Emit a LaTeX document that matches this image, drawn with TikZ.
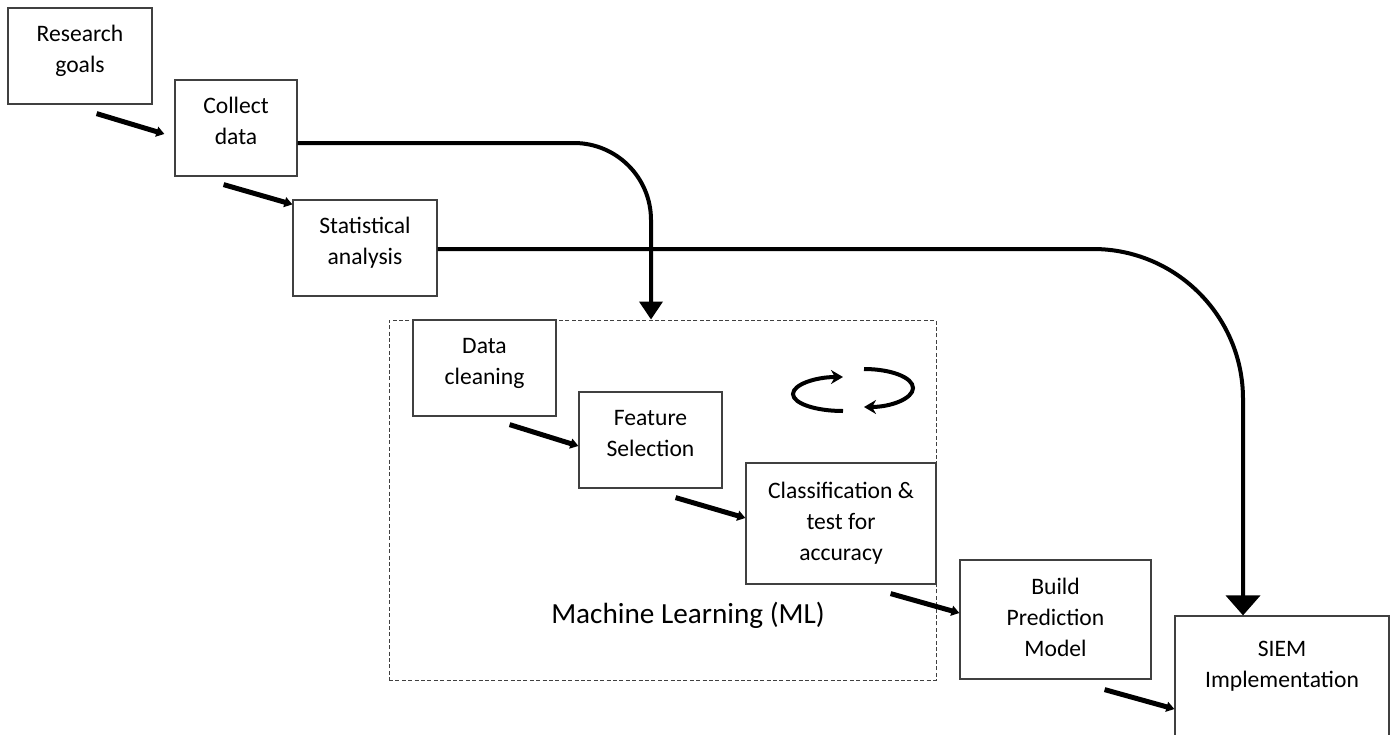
\documentclass[tikz,border=0pt]{standalone}
\usepackage{fontspec}
\setmainfont{Carlito}
\usetikzlibrary{arrows.meta,calc}
\newcommand{\boxfont}{\fontsize{11.8}{15.5}\selectfont}
\newcommand{\mlfont}{\fontsize{14.6}{17.5}\selectfont}
\definecolor{edge}{HTML}{404040}
\tikzset{
  box/.style={draw=edge, line width=0.6pt, align=center, inner sep=0pt, font=\boxfont, text depth=7pt},
  tallbox/.style={box, text depth=2pt},
  mlbox/.style={draw=edge, line width=0.5pt, dash pattern=on 2pt off 1.2pt},
  stage/.style={line width=2.5pt, -{Triangle[length=4pt,width=5pt]}},
  flow/.style={line width=2pt, -{Triangle[length=9pt,width=11.5pt]}},
  bigflow/.style={line width=2pt, -{Triangle[length=10pt,width=17pt]}},
  cyc/.style={line width=2pt, -{Stealth[length=6pt,width=7pt]}},
}

\begin{document}
\begin{tikzpicture}[x=0.5pt,y=-0.5pt]
		%%%%% BOXES %%%%%
		\useasboundingbox (0,0) rectangle (1397,734);
		
		\node[box, minimum width=72pt, minimum height=48pt] (goals) at (80,56) {Research\\goals};
		\node[box, minimum width=61pt, minimum height=48pt] (collect) at (236,128) {Collect\\data};
		\node[box, minimum width=72pt, minimum height=48pt] (stats) at (365,248) {Statistical\\analysis};
		
		\node[mlbox, minimum width=273.5pt, minimum height=180pt] (ml) at (662.5,500) {};
		\node[box, minimum width=71.5pt, minimum height=48pt] (clean) at (484.5,368) {Data\\cleaning};
		\node[box, minimum width=71.5pt, minimum height=48pt] (feature) at (650.5,440) {Feature\\Selection};
		\node[tallbox, minimum width=95pt, minimum height=60.5pt] (classify) at (841,523.5) {Classification \&\\test for\\accuracy};
		\node[font=\mlfont, anchor=base] (mllabel) at (688,623) {Machine Learning (ML)};
		
		\node[tallbox, minimum width=95.5pt, minimum height=59.5pt] (model) at (1055.5,619.5) {Build\\Prediction\\Model};
		\node[box, text depth=11.5pt, minimum width=107pt, minimum height=60pt] (siem) at (1282,676) {SIEM\\Implementation};
		
		%%%%% ARROWS %%%%%
		\draw[stage] ([shift={(-56,9)}]goals.south east) -- ([shift={(-10,6)}]collect.west);
		\draw[stage] ([shift={(-74,8)}]collect.south east) -- ([shift={(0,5)}]stats.north west);
		\draw[stage] ([shift={(-47,8)}]clean.south east) -- ([shift={(0,6)}]feature.west);
		\draw[stage] ([shift={(-47,9)}]feature.south east) -- ([shift={(0,-5.5)}]classify.west);
		\draw[stage] ([shift={(-46,9)}]classify.south east) -- ([shift={(0,-6.5)}]model.west);
		\draw[stage] ([shift={(-47,10)}]model.south east) -- ([shift={(0,33)}]siem.west);
		
		\draw[flow, rounded corners=38.5pt] ([shift={(0,15)}]collect.east) -| ([shift={(-11.5,0)}]ml.north);
		\draw[bigflow, rounded corners=75pt] ([shift={(0,1)}]stats.east) -| ([shift={(-39,0)}]siem.north);
		
		% iteration sign
		\draw[cyc] (843,411) arc[start angle=90, end angle=270, x radius=50, y radius=17];
		\draw[cyc] (864,369) arc[start angle=270, end angle=450, x radius=49, y radius=19];
		
\end{tikzpicture}
\end{document}
